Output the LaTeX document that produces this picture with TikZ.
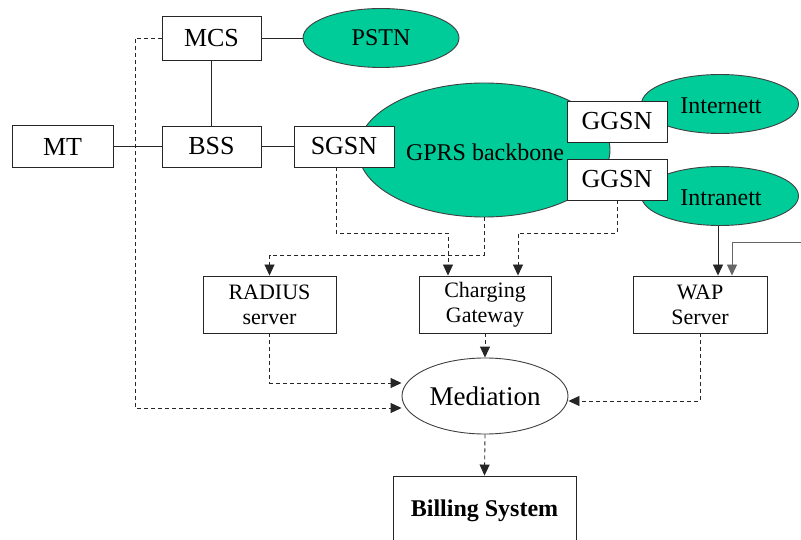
\documentclass[tikz,border=0pt]{standalone}
\usepackage{fontspec}
\setmainfont{Liberation Serif}
\usetikzlibrary{shapes.geometric,arrows.meta,calc}
\definecolor{netgreen}{RGB}{0,204,153}
\begin{document}
\begin{tikzpicture}[x=1pt,y=-1pt,
  box/.style={draw=black!85,line width=0.9pt,fill=white,inner sep=0pt,align=center},
  cloud/.style={ellipse,draw=black!75,line width=0.9pt,fill=netgreen,inner sep=0pt},
  link/.style={line width=0.9pt,draw=black!85},
  dsh/.style={line width=0.9pt,draw=black!85,dash pattern=on 4pt off 3pt},
  tip/.style={-{Triangle[length=11pt,width=10pt]}},
  big/.style={font=\fontsize{26}{28}\selectfont},
  mid/.style={font=\fontsize{24}{26}\selectfont},
  small/.style={font=\fontsize{22}{25}\selectfont}]
\useasboundingbox (0,0) rectangle (801,540);
\clip (0,0) rectangle (801,540);
\fill[white] (0,0) rectangle (801,540);

% networks
\node[cloud,minimum width=252,minimum height=134] (GPRS) at (484,150) {};
\node[mid] at (485,152) {GPRS backbone};
\node[cloud,minimum width=156,minimum height=59,mid] (PSTN) at (381,38) {PSTN};
\node[cloud,minimum width=157,minimum height=59] (Inet) at (720,104) {};
\node[mid] at (721,106) {Internett};
\node[cloud,minimum width=157,minimum height=59] (Intra) at (720,196) {};
\node[mid] at (721,198) {Intranett};

% network elements
\node[box,big,minimum width=101,minimum height=42] (MT) at (62.5,146.5) {MT};
\node[box,big,minimum width=99,minimum height=44] (MCS) at (211.5,38) {MCS};
\node[box,big,minimum width=99,minimum height=41] (BSS) at (211.5,146.5) {BSS};
\node[box,big,minimum width=100,minimum height=41] (SGSN) at (344,146.5) {SGSN};
\node[box,big,minimum width=100,minimum height=41] (GG1) at (617,121.5) {GGSN};
\node[box,big,minimum width=100,minimum height=41] (GG2) at (617,179.5) {GGSN};

% servers
\node[box,small,minimum width=133,minimum height=57] (RAD) at (269.5,304.5) {RADIUS\\server};
\node[box,small,minimum width=132,minimum height=57] (CG) at (485,304.5) {Charging\\Gateway};
\node[box,small,minimum width=134,minimum height=57] (WAP) at (700,304.5) {WAP\\Server};
\node[ellipse,draw=black!75,line width=0.9pt,fill=white,inner sep=0pt,
      minimum width=166,minimum height=76,font=\fontsize{27}{29}\selectfont] (Med) at (485,396) {Mediation};
\node[box,minimum width=183,minimum height=70,
      font=\fontsize{24}{26}\selectfont\bfseries] (Bill) at (484.5,511)
      {\raisebox{3pt}{Billing System}};

% solid links
\draw[link] (MT.east) -- (BSS.west);
\draw[link] (MCS.south) -- (BSS.north);
\draw[link] (MCS.east) -- (PSTN.west);
\draw[link] (BSS.east) -- (SGSN.west);

% helper points
\coordinate (cgL) at ($(CG.north)+(-37,0)$);
\coordinate (cgR) at ($(CG.north)+(33,0)$);
\coordinate (wapL) at ($(Intra.south)+(-2,0)$);
\coordinate (wapR) at ($(WAP.north)+(32,0)$);
\coordinate (ext) at (801,242);
\coordinate (lane) at (135,408);

% charging data flows
\draw[dsh,tip] ($(SGSN.south)+(-8,0)$) -- ++(0,66) -| (cgL);
\draw[dsh,tip] (GPRS.south) -- ++(0,38) -| (RAD.north);
\draw[dsh,tip] (GG2.south) -- ++(0,33) -| (cgR);
\draw[dsh,tip] (MCS.west) -| (lane) -- (lane -| Med.west);
\draw[dsh,tip] (RAD.south) |- ($(Med.west)+(0,-13)$);
\draw[dsh,tip] (CG.south) -- (Med.north);
\draw[dsh,tip] (WAP.south) |- ($(Med.east)+(0,5)$);
\draw[dsh,tip] (Med.south) -- (Bill.north);

% WAP access
\draw[link,tip] (wapL) -- (wapL |- WAP.north);
\draw[line width=0.9pt,draw=black!60,tip] (ext) -| (wapR);
\end{tikzpicture}
\end{document}
